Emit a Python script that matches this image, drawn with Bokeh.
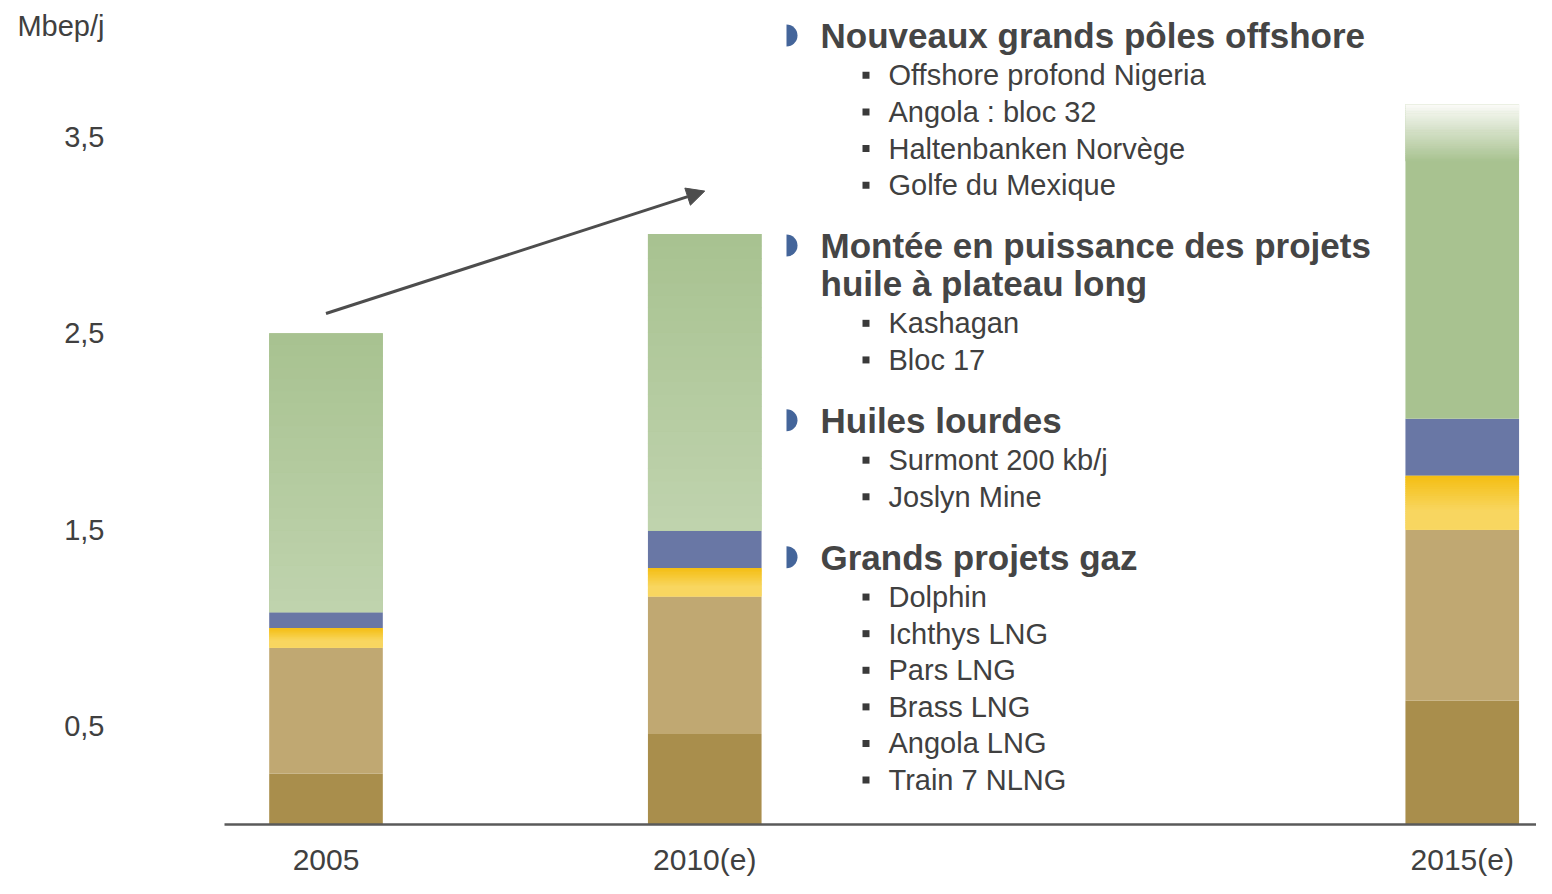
import numpy as np
from bokeh.plotting import figure
from bokeh.models import Range1d, FixedTicker, Arrow, NormalHead, ColumnDataSource
from bokeh.core.properties import value
from bokeh.embed import file_html
from bokeh.resources import INLINE

# ---------------- data ----------------
years = ["2005", "2010(e)", "2015(e)"]
seg_base = [0.26, 0.46, 0.63]        # dark brown
seg_gaz = [0.64, 0.70, 0.87]         # tan
seg_jaune = [0.10, 0.145, 0.275]     # yellow
seg_bleu = [0.08, 0.19, 0.29]        # blue
seg_vert = [1.42, 1.51, 1.60]        # green

y_ticks = [0.5, 1.5, 2.5, 3.5]
y_tick_labels = ["0,5", "1,5", "2,5", "3,5"]
unit_label = "Mbep/j"

headers = [
    ["Nouveaux grands pôles offshore"],
    ["Montée en puissance des projets", "huile à plateau long"],
    ["Huiles lourdes"],
    ["Grands projets gaz"],
]
items = [
    ["Offshore profond Nigeria", "Angola : bloc 32", "Haltenbanken Norvège", "Golfe du Mexique"],
    ["Kashagan", "Bloc 17"],
    ["Surmont 200 kb/j", "Joslyn Mine"],
    ["Dolphin", "Ichthys LNG", "Pars LNG", "Brass LNG", "Angola LNG", "Train 7 NLNG"],
]

# ---------------- layout / style ----------------
slots = [0, 1, 3]          # an empty slot between 2010 and 2015 holds the commentary
bar_w = 0.30
FONT = "Liberation Sans"
TXT = "#404040"
c_dark, c_tan, c_yel, c_blue, c_green = "#a98e4c", "#c0a872", "#f7d45c", "#6977a5", "#a8c290"

W, H = 1536, 878
PX_X = 378.75   # px per x unit
PX_Y = 197.0    # px per y unit
X0_PX, Y0_PX = 325.5, 826.0

def dx(px):
    return (px - X0_PX) / PX_X

def dy(py):
    return (Y0_PX - py) / PX_Y

p = figure(width=W, height=H, output_backend="svg", toolbar_location=None,
           x_range=Range1d(dx(224), dx(W)), y_range=Range1d(0, dy(0)),
           min_border_left=224, min_border_right=0, min_border_top=0, min_border_bottom=H - 826,
           background_fill_color="white", border_fill_color="white")
p.outline_line_color = None
p.grid.visible = False

# stacked bars (solid base colours)
stackers = ["base", "gaz", "jaune", "bleu", "vert"]
src = ColumnDataSource(dict(x=slots, base=seg_base, gaz=seg_gaz, jaune=seg_jaune,
                            bleu=seg_bleu, vert=seg_vert))
p.vbar_stack(stackers, x="x", width=bar_w, source=src,
             fill_color=[c_dark, c_tan, c_yel, c_blue, c_green], line_color=None)

stack = np.array([seg_base, seg_gaz, seg_jaune, seg_bleu, seg_vert])
tops = stack.cumsum(axis=0)
bottoms = tops - stack

def hex2rgb(h):
    h = h.lstrip("#")
    return np.array([int(h[i:i + 2], 16) for i in (0, 2, 4)], float)

def mix(a, b, t):
    c = hex2rgb(a) * (1 - t) + hex2rgb(b) * t
    return "#%02x%02x%02x" % tuple(int(round(v)) for v in c)

def gradient(xs, bs, ts, c_bottom, c_top, shape, n=24, width=bar_w):
    X, B, T, C = [], [], [], []
    for x, b, t in zip(xs, bs, ts):
        for i in range(n):
            u = (i + 0.5) / n
            X.append(x)
            B.append(b + (t - b) * i / n)
            T.append(min(t, b + (t - b) * (i + 1) / n + 0.003))
            C.append(mix(c_bottom, c_top, shape(u)))
    p.vbar(x=X, bottom=B, top=T, width=width, fill_color=C, line_color=None)

# yellow gradient on all bars
gradient(slots, bottoms[2], tops[2], "#f8d660", "#f4be12",
         lambda u: float(np.clip((u - 0.35) / 0.65, 0, 1)))
# green gradient on 2005 / 2010
gradient(slots[:2], bottoms[4][:2], tops[4][:2], "#bfd3ae", "#a8c290", lambda u: u)
# 2015: top of the bar fades to white
fade_h = 0.29
gradient([slots[2]], [tops[4][2] - fade_h], [tops[4][2]], c_green, "#fbfbf8",
         lambda u: u, n=30)

# axes
p.xaxis.ticker = FixedTicker(ticks=slots)
p.xaxis.major_label_overrides = {s: y for s, y in zip(slots, years)}
p.xaxis.axis_line_color = "#5a5a5a"
p.xaxis.axis_line_width = 2.5
p.xaxis.major_tick_line_color = None
p.xaxis.minor_tick_line_color = None
p.xaxis.major_label_text_font = FONT
p.xaxis.major_label_text_font_size = "30px"
p.xaxis.major_label_text_color = TXT
p.xaxis.major_label_standoff = 12

unit_tick = dy(26)   # unit label sits at the top of the value-label column
p.yaxis.ticker = FixedTicker(ticks=y_ticks + [unit_tick])
p.yaxis.major_label_overrides = {**{t: l for t, l in zip(y_ticks, y_tick_labels)},
                                 unit_tick: unit_label}
p.yaxis.axis_line_color = None
p.yaxis.major_tick_line_color = None
p.yaxis.minor_tick_line_color = None
p.yaxis.major_label_text_font = FONT
p.yaxis.major_label_text_font_size = "29px"
p.yaxis.major_label_text_color = TXT
p.yaxis.major_label_standoff = 114

# growth arrow
p.add_layout(Arrow(end=NormalHead(size=18, fill_color="#4d4d4d", line_color="#4d4d4d"),
                   x_start=slots[0], y_start=tops[4][0] + 0.10,
                   x_end=slots[1], y_end=tops[4][1] + 0.218,
                   line_color="#4d4d4d", line_width=3))

# commentary text
hx, hb, ix, ib = dx(820), dx(786), dx(888), dx(865.5)
y = 35.0
HX, HY, HT, BX, BY, IX, IY, IT = [], [], [], [], [], [], [], []
for hi, (hl, its) in enumerate(zip(headers, items)):
    if hi > 0:
        y += 60.5
    BX.append(hb); BY.append(dy(y))
    for k, line in enumerate(hl):
        if k > 0:
            y += 38
        HX.append(hx); HY.append(dy(y)); HT.append(line)
    y += 40
    for k, it in enumerate(its):
        if k > 0:
            y += 36.7
        IX.append(ix); IY.append(dy(y)); IT.append(it)

p.text(x=HX, y=HY, text=HT, text_font=value(FONT), text_font_style="bold",
       text_font_size="35px", text_color="#454545", text_baseline="middle", text_align="left")
p.text(x=IX, y=IY, text=IT, text_font=value(FONT), text_font_size="29px",
       text_color=TXT, text_baseline="middle", text_align="left")
p.scatter(x=[ib] * len(IY), y=IY, marker="square", size=7, fill_color="#3a3a3a", line_color=None)
p.wedge(x=BX, y=BY, radius=11, radius_units="screen", start_angle=-np.pi / 2,
        end_angle=np.pi / 2, fill_color="#44659a", line_color=None)

open("out.html", "w").write(file_html(p, INLINE))
